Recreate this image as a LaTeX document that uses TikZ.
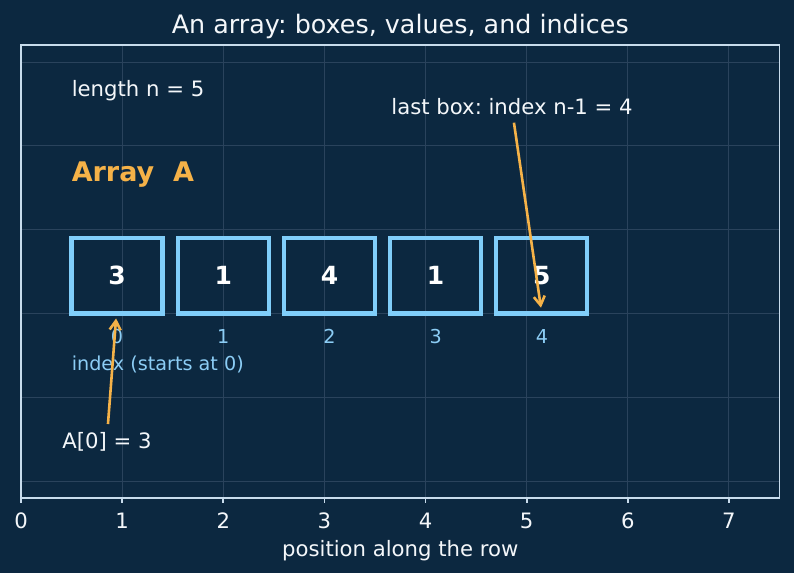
\documentclass[tikz,border=0pt]{standalone}
\usepackage{fontspec}
\setmainfont{DejaVu Sans}
\usetikzlibrary{arrows.meta}
\frenchspacing

\begin{document}
\begin{tikzpicture}[x=101.14pt, y=83.8pt,
    cellbox/.style={draw=myedge, line width=4.2pt},
    cellval/.style={text=white, font=\fontsize{25}{30}\selectfont\bfseries, inner sep=0pt},
    idxlbl/.style={text=myidx, font=\fontsize{19.2}{23}\selectfont, inner sep=0pt},
    note/.style={text=mytext, font=\fontsize{21.2}{25}\selectfont, inner sep=0pt},
    pointer/.style={-{Straight Barb[length=9pt, width=11pt]}, myarrow, line width=2.6pt}]
    \definecolor{mybg}{RGB}{12,40,64}
    \definecolor{mygrid}{RGB}{42,67,92}
    \definecolor{myframe}{RGB}{200,220,236}
    \definecolor{myedge}{RGB}{128,206,250}
    \definecolor{myidx}{RGB}{140,205,245}
    \definecolor{myarrow}{RGB}{245,178,72}
    \definecolor{mytext}{RGB}{244,247,250}

    % background
    \fill[mybg] (-0.2076,-3.098) rectangle (7.643,3.740);
    \useasboundingbox (-0.2076,-3.098) rectangle (7.643,3.740);

    % grid
    \foreach \x in {1,...,7} {
        \draw[mygrid, line width=1pt] (\x,-2.2) -- (\x,3.2);
    }
    \foreach \y in {-2,...,3} {
        \draw[mygrid, line width=1pt] (0,\y) -- (7.5,\y);
    }

    % frame and ticks
    \draw[myframe, line width=1.8pt] (0,-2.2) rectangle (7.5,3.2);
    \foreach \x in {0,...,7} {
        \draw[myframe, line width=1.8pt] (\x,-2.2) -- (\x,-2.265);
        \node[note] (tick\x) at (\x,-2.475) {\x};
    }

    % the boxes
    \foreach \v [count=\i from 0] in {3,1,4,1,5} {
        \draw[cellbox] (0.5+1.05*\i,0) rectangle (1.4+1.05*\i,0.9);
        \node[cellval] (val\i) at (0.95+1.05*\i,0.45) {\v};
        \node[idxlbl] (idx\i) at (0.95+1.05*\i,-0.28) {\i};
    }

    \node[note, anchor=west] (len) at (0.5,2.655) {length n = 5};
    \node[anchor=west, inner sep=0pt, text=myarrow, font=\fontsize{27}{32}\selectfont\bfseries] (name) at (0.5,1.655) {Array\ \ A};
    \node[idxlbl, anchor=west] (idxnote) at (0.5,-0.605) {index (starts at 0)};

    % pointers
    \node[note] (first) at (0.85,-1.53) {A[0] = 3};
    \coordinate (firsttail) at (0.86,-1.32);
    \coordinate (firsttip) at (0.94,-0.06);
    \draw[pointer] (firsttail) -- (firsttip);

    \node[note] (last) at (4.855,2.47) {last box: index n-1 = 4};
    \coordinate (lasttail) at (4.874,2.276);
    \coordinate (lasttip) at (5.141,0.068);
    \draw[pointer] (lasttail) -- (lasttip);

    % titles
    \node[text=mytext, inner sep=0pt, font=\fontsize{25.4}{30}\selectfont] (title) at (3.75,3.42) {An array: boxes, values, and indices};
    \node[note] (xlabel) at (3.75,-2.835) {position along the row};
\end{tikzpicture}
\end{document}
